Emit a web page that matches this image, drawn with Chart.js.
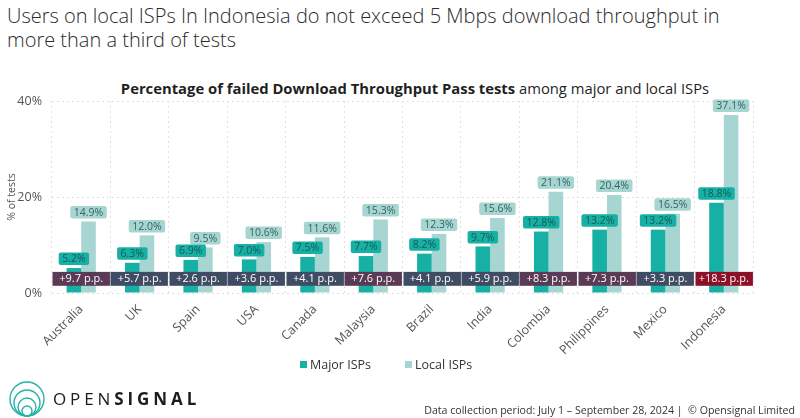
<!DOCTYPE html>
<html>
<head>
<meta charset="utf-8">
<script src="https://cdn.jsdelivr.net/npm/chart.js@4.4.1/dist/chart.umd.min.js"></script>
<style>
  html, body { margin:0; padding:0; background:#fff; }
  body { width:800px; height:418px; position:relative; overflow:hidden; font-family:"Open Sans", Lato, sans-serif; }
  #title { position:absolute; left:7px; top:4px; font-size:20px; font-weight:300; color:#2b2b2b; line-height:24px; letter-spacing:0px; }
  #subtitle { position:absolute; left:0; width:830px; top:78px; text-align:center; font-size:14.8px; color:#1f1f1f; white-space:nowrap; }
  #subtitle b { font-weight:700; }
  #chart { position:absolute; left:0; top:0; }
  #legend { position:absolute; top:356px; left:300px; font-size:12.5px; color:#333; white-space:nowrap; }
  #legend span.sw { display:inline-block; width:7px; height:7px; margin-right:3px; vertical-align:1px; }
  #legend .item { display:inline-block; margin-right:34px; }
  #logo { position:absolute; left:9px; top:378px; }
  #logotext { position:absolute; left:53px; top:387px; font-size:17px; letter-spacing:3.9px; color:#1c1c1c; font-family:"Open Sans", sans-serif; }
  #logotext b { font-weight:700; }
  #footer { position:absolute; right:5px; top:403px; font-size:10.6px; color:#333; white-space:nowrap; }
</style>
</head>
<body>
<div id="title">Users on local ISPs In Indonesia do not exceed 5 Mbps download throughput in<br>more than a third of tests</div>
<div id="subtitle"><b>Percentage of failed Download Throughput Pass tests</b> among major and local ISPs</div>
<canvas id="chart" width="800" height="418"></canvas>
<div id="legend"><span class="item"><span class="sw" style="background:#17b0a4"></span>Major ISPs</span><span class="item"><span class="sw" style="background:#a7d6d2"></span>Local ISPs</span></div>
<svg id="logo" width="40" height="40" viewBox="0 0 40 40">
  <g fill="none" stroke="#26b3a6" stroke-width="1.4">
    <circle cx="18" cy="21" r="17"/>
    <circle cx="18" cy="25" r="13"/>
    <circle cx="18" cy="29" r="9"/>
    <circle cx="18" cy="33" r="5"/>
  </g>
</svg>
<div id="logotext">OPEN<b>SIGNAL</b></div>
<div id="footer">Data collection period: July 1 – September 28, 2024 | &nbsp;© Opensignal Limited</div>
<script>
const categories = ['Australia','UK','Spain','USA','Canada','Malaysia','Brazil','India','Colombia','Philippines','Mexico','Indonesia'];
const majorISPs = [5.2, 6.3, 6.9, 7.0, 7.5, 7.7, 8.2, 9.7, 12.8, 13.2, 13.2, 18.8];
const localISPs = [14.9, 12.0, 9.5, 10.6, 11.6, 15.3, 12.3, 15.6, 21.1, 20.4, 16.5, 37.1];
const gapPP = [9.7, 5.7, 2.6, 3.6, 4.1, 7.6, 4.1, 5.9, 8.3, 7.3, 3.3, 18.3];
const yTickValues = [0, 20, 40];

const MAJOR_COLOR = '#17b0a4';
const LOCAL_COLOR = '#a7d6d2';
const BAND_LO = 1.5, BAND_HI = 4.4;

function bandColor(v) {
  if (v >= 15) return '#8c1128';
  if (v >= 7) return '#5a3a55';
  return '#3f4c64';
}

const overlayPlugin = {
  id: 'overlay',
  afterDatasetsDraw(chart) {
    const ctx = chart.ctx;
    const xs = chart.scales.x, ys = chart.scales.y;
    const step = xs.width / categories.length;
    const yTop = ys.getPixelForValue(BAND_HI), yBot = ys.getPixelForValue(BAND_LO);
    ctx.save();
    ctx.font = '11px "Open Sans", sans-serif';
    ctx.textAlign = 'center';
    ctx.textBaseline = 'middle';
    gapPP.forEach((v, i) => {
      const cx = xs.getPixelForValue(i);
      ctx.fillStyle = bandColor(v);
      ctx.fillRect(Math.round(cx - step / 2) + 0.5, yTop, step - 1, yBot - yTop);
      ctx.fillStyle = '#ffffff';
      ctx.fillText('+' + v.toFixed(1) + ' p.p.', cx, (yTop + yBot) / 2 + 0.5);
    });
    const order = [1, 0];
    ctx.font = '10.5px "Open Sans", sans-serif';
    order.forEach(di => {
      const meta = chart.getDatasetMeta(di);
      const vals = chart.data.datasets[di].data;
      meta.data.forEach((el, i) => {
        const txt = vals[i].toFixed(1) + '%';
        const w = ctx.measureText(txt).width + 7;
        const h = 12.5;
        const bottom = el.y - 3;
        ctx.fillStyle = di === 0 ? MAJOR_COLOR : LOCAL_COLOR;
        ctx.beginPath();
        ctx.roundRect(el.x - w / 2, bottom - h, w, h, 2);
        ctx.fill();
        ctx.fillStyle = di === 0 ? '#145a55' : '#36625f';
        ctx.fillText(txt, el.x, bottom - h / 2 + 0.5);
      });
    });
    ctx.restore();
  }
};

new Chart(document.getElementById('chart'), {
  type: 'bar',
  data: {
    labels: categories,
    datasets: [
      { label: 'Major ISPs', data: majorISPs, backgroundColor: MAJOR_COLOR, categoryPercentage: 0.5, barPercentage: 1.0 },
      { label: 'Local ISPs', data: localISPs, backgroundColor: LOCAL_COLOR, categoryPercentage: 0.5, barPercentage: 1.0 }
    ]
  },
  options: {
    responsive: false,
    animation: false,
    layout: { padding: { top: 101, right: 47, bottom: 45, left: 0 } },
    plugins: { legend: { display: false }, tooltip: { enabled: false } },
    scales: {
      x: {
        afterFit(s) { s.height = 80; },
        grid: { offset: true, color: '#e2e2e2', drawTicks: false },
        border: { display: false, dash: [2, 3] },
        ticks: { autoSkip: false, maxRotation: 45, minRotation: 45, padding: 9, color: '#555', font: { family: '"Open Sans", sans-serif', size: 12.5 } }
      },
      y: {
        min: 0, max: 40,
        afterFit(s) { s.width = 52; },
        afterBuildTicks(s) { s.ticks = yTickValues.map(v => ({ value: v })); },
        grid: { color: '#e2e2e2', drawTicks: false },
        border: { display: false, dash: [2, 3] },
        ticks: { padding: 10, color: '#555', font: { family: '"Open Sans", sans-serif', size: 12.5 }, callback: v => v + '%' },
        title: { display: true, text: '% of tests', color: '#555', padding: { top: 6, bottom: 0 }, font: { family: '"Open Sans", sans-serif', size: 10.5 } }
      }
    }
  },
  plugins: [overlayPlugin]
});
</script>
</body>
</html>
